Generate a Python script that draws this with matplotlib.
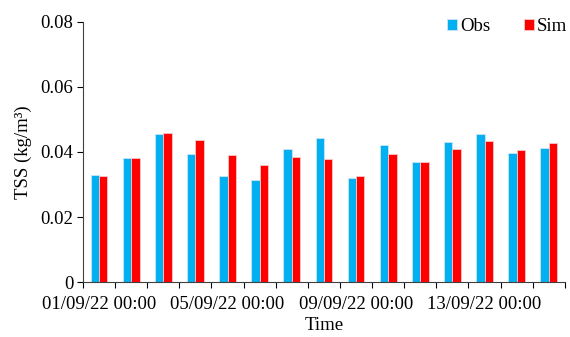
import numpy as np
import matplotlib
matplotlib.use("Agg")
import matplotlib.pyplot as plt

# ------------------------ data ------------------------
obs = [0.0330, 0.0380, 0.0454, 0.0393, 0.0326, 0.0315, 0.0409, 0.0443,
       0.0319, 0.0420, 0.0368, 0.0430, 0.0456, 0.0397, 0.0411]
sim = [0.0326, 0.0382, 0.0458, 0.0437, 0.0391, 0.0361, 0.0385, 0.0378,
       0.0326, 0.0395, 0.0368, 0.0408, 0.0433, 0.0406, 0.0428]
tick_labels = ["01/09/22 00:00", "05/09/22 00:00", "09/09/22 00:00", "13/09/22 00:00"]
tick_idx = [0, 4, 8, 12]
y_ticks = [0, 0.02, 0.04, 0.06, 0.08]
y_tick_labels = ["0", "0.02", "0.04", "0.06", "0.08"]

plt.rcParams['font.family'] = ['Liberation Serif', 'DejaVu Serif']
plt.rcParams['font.size'] = 13.5

fig = plt.figure(figsize=(5.70, 3.37), dpi=100)
ax = fig.add_axes([0.1456, 0.163, 0.8454, 0.772])

x = np.arange(len(obs))
w = 0.26
ax.bar(x - w / 2, obs, w, color='#00B0F0', edgecolor='#cfe3f5', linewidth=0.6, label='Obs')
ax.bar(x + w / 2, sim, w, color='#FF0000', edgecolor='#f7c9c9', linewidth=0.6, label='Sim')

ax.set_xlim(-0.5, len(obs) - 0.5)
ax.set_ylim(0, 0.08)
ax.set_yticks(y_ticks)
ax.set_yticklabels(y_tick_labels)

# ticks between categories, labels every 4th category
ax.set_xticks(np.arange(len(obs) + 1) - 0.5)
ax.set_xticklabels([])
ax.set_xticks(tick_idx, minor=True)
ax.set_xticklabels(tick_labels, minor=True)
ax.tick_params(axis='x', which='minor', length=0, pad=10)
ax.tick_params(axis='x', which='major', length=4, width=0.8, direction='out')
ax.tick_params(axis='y', length=4, width=0.8, direction='out', pad=3)

for s in ['top', 'right']:
    ax.spines[s].set_visible(False)
ax.spines['left'].set_color('#404040')
ax.spines['bottom'].set_color('#404040')

ax.set_ylabel('TSS (kg/m³)', labelpad=6)
ax.set_xlabel('Time', labelpad=3)

ax.legend(loc='upper right', ncol=2, frameon=False, handlelength=0.55, handleheight=0.55,
          handletextpad=0.15, columnspacing=1.8, bbox_to_anchor=(1.04, 1.08))

fig.savefig('out.png', dpi=100)
